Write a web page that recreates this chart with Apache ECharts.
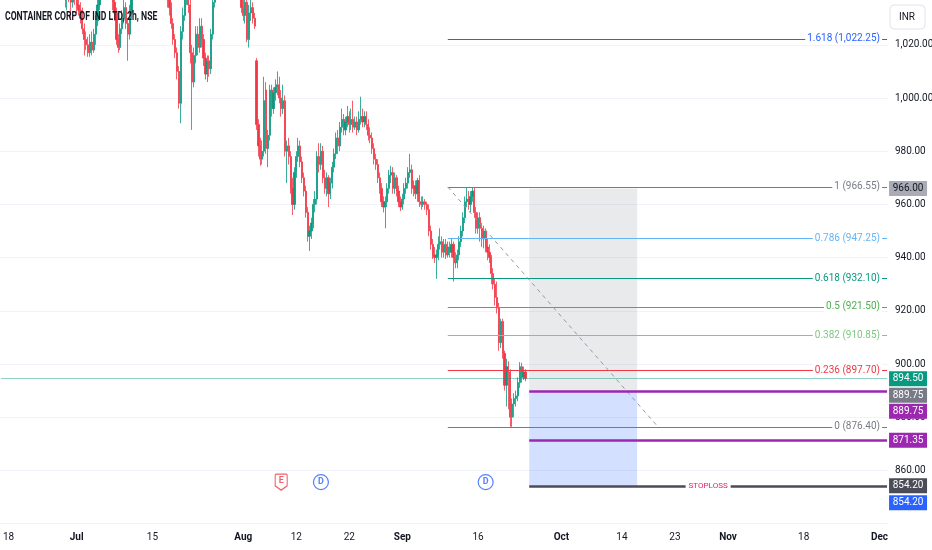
<!DOCTYPE html>
<html>
<head>
<meta charset="utf-8">
<script src="https://cdn.jsdelivr.net/npm/echarts/dist/echarts.min.js"></script>
<style>
html,body{margin:0;padding:0;background:#fff}
#chart{width:932px;height:550px}
</style>
</head>
<body>
<div id="chart"></div>
<script>
// CONCOR 2h candles, [open, close, low, high]
var candles = [
[1060,1064,1057,1067],[1064,1058,1055,1066],[1058,1062,1054,1065],[1062,1068,1060,1071],
[1068,1065,1062,1072],[1065,1070,1063,1073],[1070,1074,1068,1077],[1074,1069,1066,1076],
[1069,1066,1063,1072],[1066,1061,1058,1068],[1061,1063,1057,1066],[1063,1058,1054,1065],
[1058,1055,1052,1061],[1055,1059,1053,1062],[1059,1056,1052,1061],[1056,1052,1049,1058],
[1052,1055,1050,1058],[1055,1060,1053,1062],[1060,1057,1054,1063],[1057,1053,1050,1059],
[1053,1050,1047,1055],[1050,1054,1048,1057],[1054,1058,1052,1061],[1058,1055,1051,1060],
[1055,1051,1048,1057],[1051,1048,1045,1053],[1048,1052,1046,1055],[1052,1049,1045,1054],
[1049,1046,1042,1051],[1046,1049,1043,1052],[1049,1053,1047,1056],[1053,1050,1046,1055],
[1050,1046,1042,1052],[1046,1044,1040,1048],[1044,1040,1034,1046],[1040,1043,1033,1045],
[1043,1039,1036,1045],[1039,1036,1030,1041],[1036,1040,1034,1042],[1040,1038,1035,1043],
[1038,1035,1032,1040],[1035,1033,1031,1038],[1033,1030,1028,1036],[1030,1026,1024,1034],
[1026,1022,1016,1028],[1022,1020,1018,1025],[1020,1017,1015.5,1023],[1017,1021,1015.5,1024],
[1021,1018,1016,1025],[1018,1024,1017,1026],[1024,1029,1020,1031],
[1029,1035,1027,1038],[1035,1041,1033,1044],[1041,1046,1039,1049],[1046,1044,1041,1050],
[1044,1049,1042,1052],[1049,1047,1043,1053],[1047,1045,1040,1050],[1045,1042,1038,1047],
[1042,1036,1033,1044],[1036,1032,1029,1038],[1032,1022,1020,1034],[1022,1019,1017,1024],
[1019,1026,1018,1028],[1026,1030,1024,1033],[1030,1034,1028,1037],[1034,1028,1026,1036],
[1028,1024,1014,1030],[1024,1032,1022,1035],[1032,1039,1030,1042],[1039,1045,1037,1048],
[1045,1050,1043,1053],[1050,1048,1045,1054],[1048,1053,1046,1056],[1053,1057,1051,1060],
[1057,1054,1051,1059],[1054,1058,1052,1061],[1058,1062,1056,1065],[1062,1059,1055,1064],
[1059,1056,1053,1061],[1056,1060,1054,1063],[1060,1057,1053,1062],[1057,1053,1050,1059],
[1053,1055,1049,1058],[1055,1051,1047,1057],[1051,1048,1044,1053],[1048,1045,1041,1050],
[1045,1042,1037,1048],[1042,1037,1034,1044],[1037,1034,1031,1040],[1034,1028,1026,1036],
[1028,1022,1020,1030],[1022,1017,1015,1024],[1017,1010,1007,1019],[1010,998,996,1012],
[998,1025,990.5,1027],[1025,1031,1022,1034],[1031,1038,1029,1041],[1038,1043,1035,1046],
[1043,1035,1032,1046],[1035,1017,1013,1037],[1017,1006,988,1020],[1006,1016,1004,1019],
[1016,1024,1013,1027],[1024,1019,1016,1027],[1019,1027,1017,1030],[1027,1022,1019,1030],
[1022,1015,1012,1024],[1015,1009,1007,1017],[1009,1014,1006,1016],[1014,1011,1008,1016],
[1011,1024,1009,1026],[1024,1036,1022,1038],[1036,1044,1034,1047],[1044,1049,1042,1052],
[1049,1046,1043,1052],[1046,1051,1044,1054],[1051,1055,1049,1058],[1055,1052,1049,1057],
[1052,1056,1050,1059],[1056,1053,1050,1058],[1053,1050,1046,1055],[1050,1054,1048,1057],
[1054,1051,1047,1056],[1051,1047,1043,1053],[1047,1049,1044,1052],[1049,1045,1041,1051],
[1045,1034,1032,1048],[1034,1031,1029,1038],[1031,1036,1028,1040],[1036,1022,1021,1038],
[1022,1032,1019,1035],[1032,1034,1029,1037],[1034,1030,1028,1036],[1030,1027,1026,1032],
[1014,990,988,1015],[990,982,978,992],[982,977,974.5,985],[977,980,975,984],
[980,999,978,1008],[1003,981,979,1006],[981,986,974,988],[986,1003,984,1005],
[1003,996,993,1005],[996,1002,994,1004],[1002,1004,999,1007],[1004,1005,1001,1010],
[1005,1000,998,1008],[1000,996,993,1003],[996,999,994,1005],
[999,980,978,1001],[980,982,968,984],[982,978,975,985],[978,966,964,980],
[966,960,956,970],[960,972,958,974],[972,978,970,980],[978,982,976,985],
[982,976,974,984],[976,970,968,978],[970,965,963,972],[965,957,955,967],
[957,948,946,959],[948,950,942.5,952],[950,953,947,955],[953,960,951,962],
[960,962,957,965],[962,978,960,980],[978,975,972,983],[975,980,973,983],
[980,970,968,982],[970,966,964,973],[966,970,963,972],[970,964,959,971],
[964,968,962,970],[968,974,966,976],[974,979,972,981],[979,985,977,987],
[985,982,979,988],[982,989,980,991],[989,992,987,996],[992,988,986,994],
[988,991,986,993],[991,993,989,997],[993,990,987,995],[990,992,988,996],
[992,989,987,999],[989,991,988,993],[991,988,986,993],[988,992,987,995],
[992,993,990,1000.5],[993,991,989,996],[991,993,989,995],[993,990,988,995],
[990,986,984,992],[986,985,983,989],[985,981,979,987],[981,977,975,983],
[977,975,973,979],[975,970,968,977],[970,966,964,972],[966,961,959,968],
[961,959,957,963],[959,961,951,963],[961,966,959,968],[966,971,964,973],
[971,972,968,974.5],[972,966,964,974],[966,970,964,972],[970,965,963,971],
[965,961,959,967],[961,959,957.5,963],[959,962,958,964],[962,966,960,968],
[966,968,964,970],[968,972,966,974],[972,973,970,979],[973,966,964,975],
[966,967,963,969],[967,964,962,969],[964,969,961,970],[969,961,959,971],
[961,960,958,963],[960,961,959,963],[961,960,958,962],[960,958,956,961],
[958,950,948,960],[950,945,943,952],[945,941,939.5,947],[941,940,938,944],
[940,941,932,943],[941,945,939,948],[945,946,943,951],[946,942,940,948],
[942,945,940,947],[945,941,939.5,947],[941,944,940,946],[944,942,940,946],
[942,945,940,947],[945,940,931,946],[940,938,936,942],[938,941,936,943],
[941,946,939,948],[946,950,944,952],[950,955,948,957],[955,961,953,963],
[961,962,959,966.55],[962,960,958,965],[960,963,957,965],[963,965,961,966.5],
[965,957,955,966.55],[957,951,949,959],[951,955,949,957],[955,951,946,957],
[951,947,944,953],[947,950,943.5,952],[950,944,942,951],[944,942,939,947],
[942,940,938,945],[940,934,930,941],[934,930,928,936],[930,925,922,932],
[925,921,919,931],[921,908,905,923],[908,916,906,917],[916,904,902,917],
[904,892,890,905],[892,899,884,902],[899,897,883,901],[897,880,876.4,898],
[880,885,876.4,887],[885,887,880,889],[887,888,884,890],[888,893,886,895],
[893,899,891,900.7],[899,895,893,900.5],[895,897,894,899],[897,894.5,893.5,898]
];

// trading calendar (NSE, 4 bars of 2h per session)
var holidays = ['2024-06-17','2024-07-17','2024-08-15','2024-10-02','2024-11-15'];
var barTimes = ['09:15','11:15','13:15','15:15'];
var firstDay = '2024-06-14';
var barCount = 469;

var tickDates = ['2024-06-18','2024-07-01','2024-07-15','2024-08-01','2024-08-12','2024-08-22','2024-09-02',
                 '2024-09-16','2024-10-01','2024-10-14','2024-10-23','2024-11-01','2024-11-18','2024-12-02'];
var tickLabels = ['18','Jul','15','Aug','12','22','Sep','16','Oct','14','23','Nov','18','Dec'];

// fib retracement drawing
var fibRatios = ['1.618','1','0.786','0.618','0.5','0.382','0.236','0'];
var fibPrices = [1022.25,966.55,947.25,932.10,921.50,910.85,897.70,876.40];
var fibColors = ['#2962ff','#787b86','#64b5f6','#089981','#4caf50','#81c784','#f23645','#787b86'];
var fibFrom = '2024-09-10 09:15';
var fibTo = '2024-10-18 15:15';

// short position drawing
var posFrom = '2024-09-24 15:15';
var posTo = '2024-10-16 09:15';
var posStop = 966.00;
var posEntry = 889.75;
var posTarget = 854.20;
var purpleLevel = 871.35;
var lastPrice = 894.50;

// price tags on the scale
var tagPrices = [966.00, 894.50, 889.75, 889.75, 871.35, 854.20, 854.20];
var tagColors = ['#a9acb5','#089981','#787b86','#9c27b0','#9c27b0','#4a4d57','#2962ff'];
var tagText = ['#131722','#fff','#fff','#fff','#fff','#fff','#fff'];
var tagShift = [0,0,4,20,0,0,17];

// events
var eventDates = ['2024-08-08 09:15','2024-08-16 11:15','2024-09-17 09:15'];
var eventKinds = ['E','D','D'];

var FONT = "Roboto,'Liberation Sans',sans-serif";

var categories = [];
(function(){
  var d = new Date(firstDay + 'T00:00:00Z');
  while (categories.length < barCount) {
    var wd = d.getUTCDay();
    var iso = d.toISOString().slice(0,10);
    if (wd !== 0 && wd !== 6 && holidays.indexOf(iso) < 0) {
      for (var k = 0; k < barTimes.length && categories.length < barCount; k++) {
        categories.push(iso + ' ' + barTimes[k]);
      }
    }
    d.setUTCDate(d.getUTCDate() + 1);
  }
})();
var lastCat = categories[categories.length - 1];

var tickMap = {};
for (var i = 0; i < tickDates.length; i++) tickMap[tickDates[i] + ' 09:15'] = tickLabels[i];

function fmt(v) {
  return v.toLocaleString('en-US', {minimumFractionDigits: 2, maximumFractionDigits: 2});
}

function hline(from, to, price, style, label) {
  return [
    {coord: [from, price], lineStyle: style, label: label || {show: false}},
    {coord: [to, price], lineStyle: style}
  ];
}

var lines = [];
for (var i = 0; i < fibPrices.length; i++) {
  lines.push(hline(fibFrom, lastCat, fibPrices[i],
    {color: fibColors[i], width: 1, type: 'solid', opacity: 1},
    {show: true, position: 'insideEnd', distance: [5, 0], formatter: fibRatios[i] + ' (' + fmt(fibPrices[i]) + ')',
     color: fibColors[i], fontSize: 10, fontFamily: FONT, backgroundColor: '#fff', padding: [1, 2]}));
}
// fib trend line
var trendStyle = {color: '#9598a1', width: 1, type: [4, 4], opacity: 1};
lines.push([
  {coord: [fibFrom, fibPrices[1]], lineStyle: trendStyle, label: {show: false}},
  {coord: [fibTo, fibPrices[7]], lineStyle: trendStyle}
]);
// position lines
lines.push(hline(posFrom, lastCat, posEntry, {color: '#9c27b0', width: 2.5, type: 'solid', opacity: 1}));
lines.push(hline(posFrom, lastCat, purpleLevel, {color: '#9c27b0', width: 2.5, type: 'solid', opacity: 1}));
lines.push(hline(posFrom, lastCat, posTarget, {color: '#4a4d57', width: 2.5, type: 'solid', opacity: 1},
  {show: true, position: 'insideMiddle', formatter: 'STOPLOSS', color: '#e91e63', fontSize: 8,
   fontFamily: FONT, backgroundColor: '#fff', padding: [1, 3]}));
// last price line
lines.push(hline(categories[0], lastCat, lastPrice, {color: 'rgba(8,153,129,0.45)', width: 1, type: 'solid', opacity: 1}));

var tags = [];
for (var i = 0; i < tagPrices.length; i++) {
  tags.push({
    coord: [lastCat, tagPrices[i]],
    symbol: 'rect', symbolSize: [38, 15], symbolOffset: [21, tagShift[i]],
    itemStyle: {color: tagColors[i]},
    label: {show: true, position: 'inside', formatter: fmt(tagPrices[i]), color: tagText[i], fontSize: 10, fontFamily: FONT}
  });
}

var events = [];
for (var i = 0; i < eventDates.length; i++) {
  var isE = eventKinds[i] === 'E';
  var col = isE ? '#f23645' : '#2962ff';
  events.push({
    value: [eventDates[i], 7.8],
    symbol: isE ? 'path://M1,0 H11 Q12,0 12,1 V11 L6,15 L0,11 V1 Q0,0 1,0 Z' : 'circle',
    symbolSize: isE ? [12, 16] : 15,
    itemStyle: {color: '#fff', borderColor: col, borderWidth: 1.2},
    label: {show: true, position: 'inside', formatter: eventKinds[i], color: col, fontSize: 9,
            fontWeight: 'bold', fontFamily: FONT, offset: isE ? [0, -1] : [0, 0]}
  });
}

var chart = echarts.init(document.getElementById('chart'));
chart.setOption({
  animation: false,
  backgroundColor: '#fff',
  grid: {left: 0, right: 44, top: -8.4, bottom: 26.4, containLabel: false, outerBoundsMode: 'none'},
  xAxis: {
    type: 'category', data: categories, boundaryGap: true,
    axisLine: {show: false}, axisTick: {show: false}, splitLine: {show: false},
    axisLabel: {
      interval: function (idx, val) { return tickMap[val] !== undefined; },
      formatter: function (val) {
        var t = tickMap[val];
        if (t === undefined) return '';
        return /^[A-Z]/.test(t) ? '{m|' + t + '}' : t;
      },
      color: '#131722', fontSize: 10, fontFamily: FONT, margin: 9, hideOverlap: false,
      rich: {m: {fontWeight: 'bold', fontSize: 10, color: '#131722', fontFamily: FONT}}
    }
  },
  yAxis: [{
    type: 'value', position: 'right', min: 840, max: 1040, interval: 20,
    axisLine: {show: false}, axisTick: {show: false},
    splitLine: {lineStyle: {color: '#f0f3fa', width: 1}},
    axisLabel: {
      margin: 7, color: '#131722', fontSize: 10, fontFamily: FONT,
      formatter: function (v) { return (v < 850 || v > 1030) ? '' : fmt(v); }
    }
  }, {
    type: 'value', min: 0, max: 100, show: false
  }],
  graphic: [
    {type: 'text', x: 5, y: 11, scaleX: 0.72, z: 11,
     style: {text: 'CONTAINER CORP OF IND LTD, 2h, NSE', fontSize: 12, fontWeight: 'bold', fill: '#131722', fontFamily: FONT}},
    {type: 'rect', x: 890, y: 5, shape: {width: 35, height: 24, r: 4},
     style: {fill: '#fff', stroke: '#e0e3eb', lineWidth: 1}, z: 10},
    {type: 'text', x: 899, y: 12, style: {text: 'INR', fontSize: 10, fill: '#131722', fontFamily: FONT}, z: 11}
  ],
  series: [
    {
      name: 'boxes', type: 'line', data: [], z: 1, silent: true,
      markArea: {
        silent: true,
        data: [
          [{coord: [posFrom, posStop], itemStyle: {color: 'rgba(120,123,134,0.16)'}}, {coord: [posTo, posEntry]}],
          [{coord: [posFrom, posEntry], itemStyle: {color: 'rgba(41,98,255,0.2)'}}, {coord: [posTo, posTarget]}]
        ]
      }
    },
    {
      name: 'CONCOR', type: 'candlestick', data: candles, z: 2, barWidth: 1.7,
      itemStyle: {color: '#089981', color0: '#f23645', borderColor: '#089981', borderColor0: '#f23645', borderWidth: 0.8}
    },
    {
      name: 'drawings', type: 'line', data: [], z: 3, silent: true,
      markLine: {silent: true, symbol: ['none', 'none'], animation: false, data: lines}
    },
    {
      name: 'tags', type: 'line', data: [], z: 5, silent: true, clip: false,
      markPoint: {silent: true, animation: false, data: tags}
    },
    {
      name: 'events', type: 'scatter', yAxisIndex: 1, z: 4, data: events
    }
  ]
});
</script>
</body>
</html>
